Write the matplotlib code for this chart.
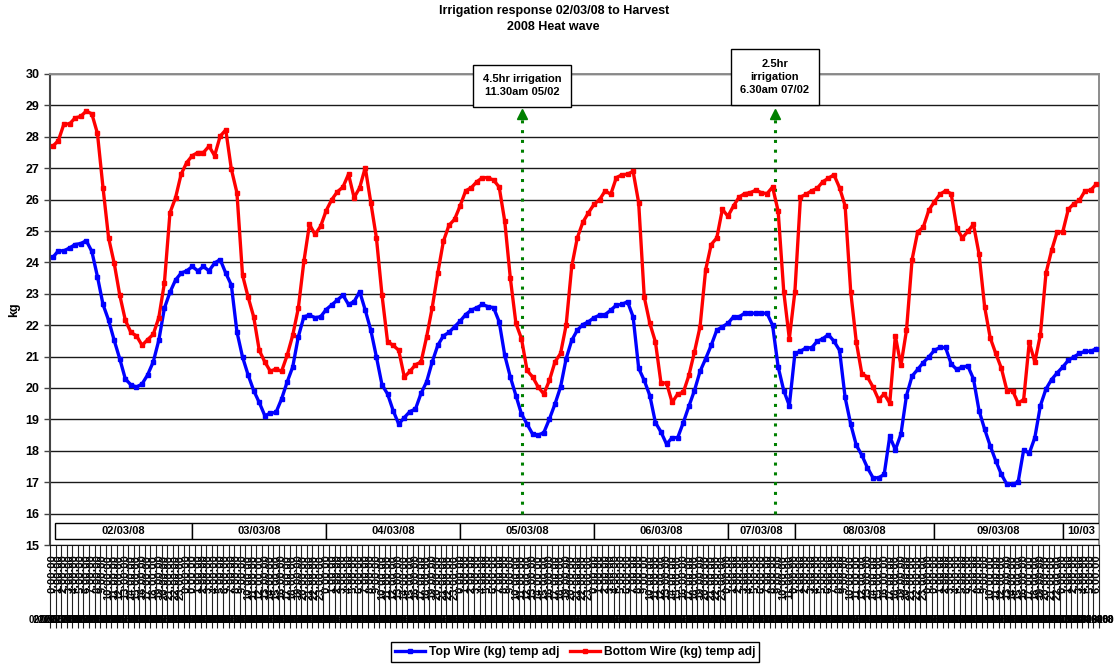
import matplotlib
matplotlib.use("Agg")
import matplotlib.pyplot as plt
from matplotlib.patches import Rectangle

plt.rcParams["font.family"] = ["Liberation Sans", "DejaVu Sans"]
plt.rcParams["font.weight"] = "bold"

# --- data (hourly readings) ---
day_labels = ["02/03/08", "03/03/08", "04/03/08", "05/03/08", "06/03/08",
              "07/03/08", "08/03/08", "09/03/08", "10/03"]
day_start = [0, 25, 49, 73, 97, 121, 133, 158, 181]

top_wire = [
    24.16, 24.37, 24.37, 24.46, 24.57, 24.60, 24.69, 24.35, 23.55, 22.66,
    22.16, 21.52, 20.93, 20.29, 20.10, 20.03, 20.13, 20.42, 20.83, 21.52,
    22.54, 23.05, 23.44, 23.66, 23.73, 23.87, 23.73, 23.87, 23.73, 23.98,
    24.09, 23.66, 23.28, 21.79, 20.99, 20.42, 19.92, 19.54, 19.12, 19.20,
    19.22, 19.65, 20.19, 20.67, 21.63, 22.27, 22.32, 22.24, 22.27, 22.50,
    22.65, 22.80, 22.96, 22.66, 22.75, 23.07, 22.48, 21.84, 20.99, 20.10,
    19.81, 19.28, 18.85,
    19.06, 19.25, 19.33, 19.83, 20.20, 20.83, 21.36, 21.66, 21.77, 21.95,
    22.13, 22.34, 22.48, 22.56, 22.66, 22.59, 22.56, 22.11, 21.04, 20.35,
    19.76, 19.17, 18.85, 18.53, 18.50, 18.58, 19.01, 19.49, 20.03, 20.93,
    21.52, 21.84, 22.02, 22.11, 22.24, 22.32, 22.34, 22.48, 22.64, 22.66,
    22.75, 22.27, 20.63, 20.24, 19.76, 18.90, 18.60, 18.21, 18.42, 18.42,
    18.90, 19.42, 19.92, 20.53, 20.93, 21.36, 21.84, 21.95, 22.06, 22.27,
    22.27, 22.38,
    22.38, 22.38, 22.38, 22.38, 22.00, 20.67, 19.92, 19.44, 21.10, 21.17,
    21.28, 21.28, 21.49, 21.57, 21.70, 21.49, 21.20, 19.70, 18.85, 18.18,
    17.86, 17.46, 17.14, 17.14, 17.25, 18.46, 18.03, 18.53, 19.76, 20.38,
    20.59, 20.81, 20.99, 21.20, 21.29, 21.29, 20.77, 20.59, 20.67, 20.70,
    20.29, 19.28, 18.69, 18.16, 17.68, 17.25, 16.93, 16.93, 17.00, 18.03,
    17.92, 18.42, 19.44, 19.97, 20.27, 20.48, 20.67, 20.88, 20.99, 21.10,
    21.17, 21.17, 21.25,
]

bottom_wire = [
    27.70, 27.88, 28.41, 28.41, 28.60, 28.65, 28.82, 28.73, 28.11, 26.38,
    24.78, 23.98, 22.96, 22.16, 21.77, 21.66, 21.36, 21.54, 21.71, 22.24,
    23.34, 25.58, 26.06, 26.81, 27.18, 27.40, 27.50, 27.50, 27.70, 27.40,
    28.02, 28.22, 26.97, 26.22, 23.60, 22.90, 22.27, 21.20, 20.83, 20.53,
    20.61, 20.53, 21.04, 21.68, 22.54, 24.03, 25.21, 24.89, 25.15, 25.65,
    26.00, 26.25, 26.40, 26.81, 26.06, 26.38, 27.02, 25.90, 24.78, 22.96,
    21.47, 21.36, 21.20,
    20.35, 20.53, 20.74, 20.83, 21.63, 22.56, 23.66, 24.67, 25.18, 25.37,
    25.80, 26.28, 26.38, 26.57, 26.70, 26.70, 26.62, 26.40, 25.31, 23.50,
    22.06, 21.57, 20.56, 20.35, 20.03, 19.81, 20.24, 20.83, 21.10, 22.00,
    23.87, 24.78, 25.28, 25.58, 25.85, 26.00, 26.28, 26.17, 26.70, 26.79,
    26.81, 26.90, 25.90, 22.90, 22.06, 21.47, 20.16, 20.16, 19.54, 19.81,
    19.86, 20.40, 21.15, 21.95, 23.76, 24.57, 24.78, 25.69, 25.47, 25.80,
    26.08, 26.19,
    26.22, 26.30, 26.22, 26.19, 26.40, 25.63, 23.07, 21.57, 23.07, 26.08,
    26.17, 26.28, 26.36, 26.57, 26.68, 26.79, 26.38, 25.80, 23.07, 21.47,
    20.45, 20.35, 20.03, 19.63, 19.81, 19.52, 21.66, 20.72, 21.84, 24.09,
    24.97, 25.12, 25.66, 25.93, 26.17, 26.28, 26.19, 25.10, 24.78, 24.99,
    25.21, 24.27, 22.59, 21.60, 21.10, 20.63, 19.92, 19.92, 19.52, 19.63,
    21.45, 20.83, 21.70, 23.66, 24.38, 24.97, 24.97, 25.69, 25.87, 25.98,
    26.28, 26.30, 26.49,
]

irrigation_at = [84.1, 129.4]
irrigation_notes = ["4.5hr irrigation\n11.30am 05/02", "2.5hr\nirrigation\n6.30am 07/02"]

n = len(top_wire)
x = list(range(n))

# hour labels inside each day, plus the long date row under them
day_end = day_start[1:] + [n]
hour_labels = []
date_labels = []
for lab, s, e in zip(day_labels, day_start, day_end):
    for k in range(e - s):
        hour_labels.append(f"{k % 24}:00:00")
        date_labels.append(lab[:6] + "2008")

W, H = 1114, 666
fig = plt.figure(figsize=(W / 100, H / 100), dpi=100)
ax = fig.add_axes([50 / W, 1 - 545 / H, 1049 / W, 471 / H])

ax.plot(x, top_wire, color="#0000ff", lw=2.4, marker="s", ms=2.6, zorder=4,
        label="Top Wire (kg) temp adj")
ax.plot(x, bottom_wire, color="#ff0000", lw=2.4, marker="s", ms=2.6, zorder=4,
        label="Bottom Wire (kg) temp adj")

ax.set_xlim(-0.5, n - 0.5)
ax.set_ylim(15, 30)
ax.set_yticks(range(15, 31))
ax.yaxis.grid(True, color="#1a1a1a", lw=1.0)
ax.set_axisbelow(True)
ax.tick_params(axis="y", labelsize=9, length=4, width=1, color="#444")

# category ticks: separators between hours and rotated hour labels
ax.set_xticks(x)
ax.set_xticklabels(hour_labels, rotation=90, fontsize=8, va="top")
ax.tick_params(axis="x", length=0, pad=7)
ax.set_xticks([i - 0.5 for i in range(n + 1)], minor=True)
ax.tick_params(axis="x", which="minor", length=60, width=0.8, color="#222")
for i, lab in enumerate(date_labels):
    ax.text(i, -0.159, lab, transform=ax.get_xaxis_transform(), ha="center",
            va="center", fontsize=7, clip_on=False)

for side in ("top", "right"):
    ax.spines[side].set_color("#8c8c8c")
    ax.spines[side].set_linewidth(1.4)
ax.spines["left"].set_color("#444")
ax.spines["left"].set_linewidth(1.5)
ax.spines["bottom"].set_color("#111")

# day boxes just above the x axis
edges = [float(s) for s in day_start] + [n - 0.5]
edges[0] = 0.4
for lab, a, b in zip(day_labels, edges[:-1], edges[1:]):
    ax.add_patch(Rectangle((a, 15.19), b - a, 0.51, fc="white", ec="black",
                           lw=1.0, zorder=5))
    ax.text((a + b) / 2, 15.45, lab, ha="center", va="center", fontsize=8, zorder=6)

# irrigation markers
note_y = [29.63, 29.9]
for xi, note, ty in zip(irrigation_at, irrigation_notes, note_y):
    ax.plot([xi, xi], [16.0, 28.6], ls=(0, (1, 2.2)), lw=2.2, color="#008000", zorder=3)
    ax.plot([xi], [28.72], marker="^", ms=7, color="#008000", zorder=3)
    ax.text(xi, ty, note, ha="center", va="center", fontsize=8, linespacing=1.4,
            zorder=6, clip_on=False,
            bbox=dict(boxstyle="square,pad=0.85", fc="white", ec="black", lw=1.0))

fig.text(0.497, 1 - 5 / H, "Irrigation response 02/03/08 to Harvest\n2008 Heat wave",
         ha="center", va="top", fontsize=9, linespacing=1.45)
fig.text(14 / W, 1 - 310 / H, "kg", rotation=90, ha="center", va="center", fontsize=9)

leg = ax.legend(loc="center", bbox_to_anchor=(575 / W, 1 - 652 / H),
                bbox_transform=fig.transFigure, ncol=2, fontsize=8.7,
                frameon=True, fancybox=False, edgecolor="black", framealpha=1,
                handlelength=2.5, handletextpad=0.3, columnspacing=0.9,
                borderpad=0.3, markerscale=1.0)
leg.get_frame().set_linewidth(1.0)

fig.savefig("out.png", dpi=100)
